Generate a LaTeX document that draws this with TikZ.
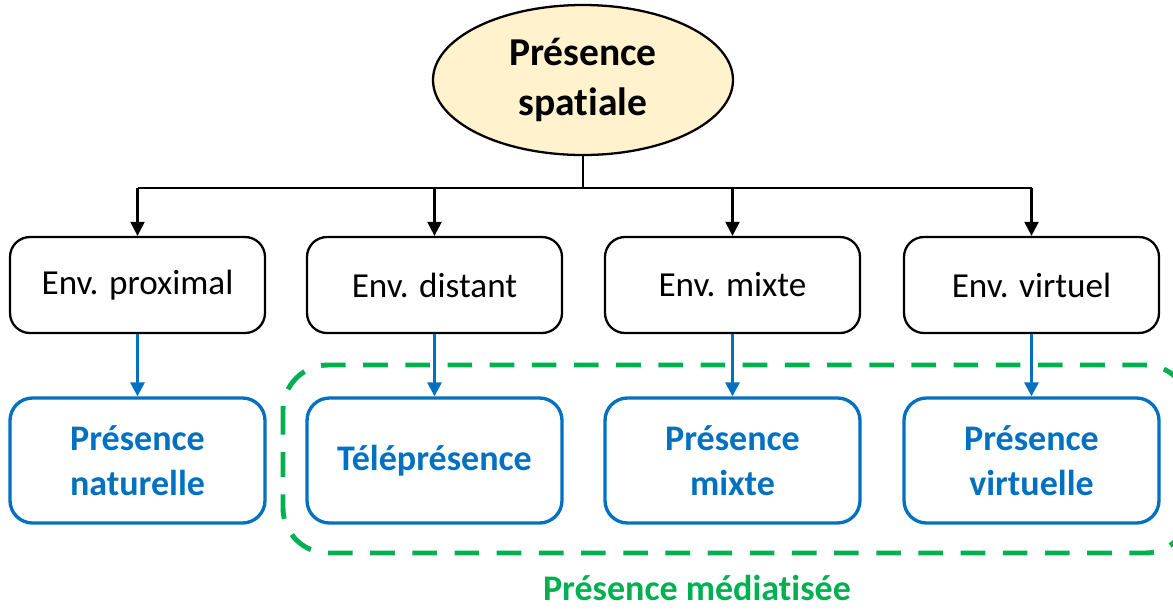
\documentclass[tikz,border=0pt]{standalone}
\usepackage{fontspec}
\setmainfont{Carlito}[Ligatures=NoCommon]
\usetikzlibrary{arrows.meta,shapes.geometric}
\definecolor{bleu}{HTML}{0070C0}
\definecolor{vert}{HTML}{00B050}
\definecolor{creme}{HTML}{FFF2CC}
\tikzset{
    env/.style={draw, line width=1.3pt, rounded corners=0.4cm, minimum width=5.1cm,
        minimum height=1.92cm, font=\fontsize{20}{24}\selectfont},
    pres/.style={draw=bleu, line width=1.9pt, rounded corners=0.45cm, minimum width=5.1cm,
        minimum height=2.5cm, text=bleu, align=center,
        font=\fontsize{20.5}{25.5}\selectfont\bfseries},
    fl/.style={-{Triangle[width=8pt,length=8pt]}, line width=1.3pt},
}
\begin{document}
\begin{tikzpicture}
    \useasboundingbox (0, 0) rectangle (23.46, -12.2);

    \node[ellipse, draw, fill=creme, line width=1.3pt, minimum width=6cm, minimum height=3cm,
        align=center, font=\fontsize{22.5}{28}\selectfont\bfseries] (sp) at (11.66, -1.6)
        {Présence\\spatiale};

    \node[env] (e1) at (2.75, -5.7) {Env. proximal};
    \node[env] (e2) at (8.69, -5.7) {Env. distant};
    \node[env] (e3) at (14.65, -5.7) {Env. mixte};
    \node[env] (e4) at (20.63, -5.7) {Env. virtuel};

    \node[pres] (p1) at (2.75, -9.21) {Présence\\naturelle};
    \node[pres] (p2) at (8.69, -9.21) {Téléprésence};
    \node[pres] (p3) at (14.65, -9.21) {Présence\\mixte};
    \node[pres] (p4) at (20.63, -9.21) {Présence\\virtuelle};

    % arbre
    \coordinate (bar) at (11.66, -3.76);
    \draw[line width=1.3pt] (sp.south) -- (bar);
    \draw[line width=1.3pt] (e1.north |- bar) -- (e4.north |- bar);
    \foreach \i in {1,...,4}
        \draw[fl] (e\i.north |- bar) -- (e\i.north);

    % groupe mediatise
    \draw[vert, dashed, line width=2.8pt, dash pattern=on 14pt off 10pt, rounded corners=0.9cm]
        (5.66, -7.3) rectangle (23.8, -11.06);
    \node[text=vert, font=\fontsize{20.5}{24}\selectfont\bfseries] (med) at (13.94, -11.76)
        {Présence médiatisée};

    \foreach \i in {1,...,4}
        \draw[fl, bleu, line width=1.7pt] (e\i.south) -- (p\i.north);
\end{tikzpicture}
\end{document}
